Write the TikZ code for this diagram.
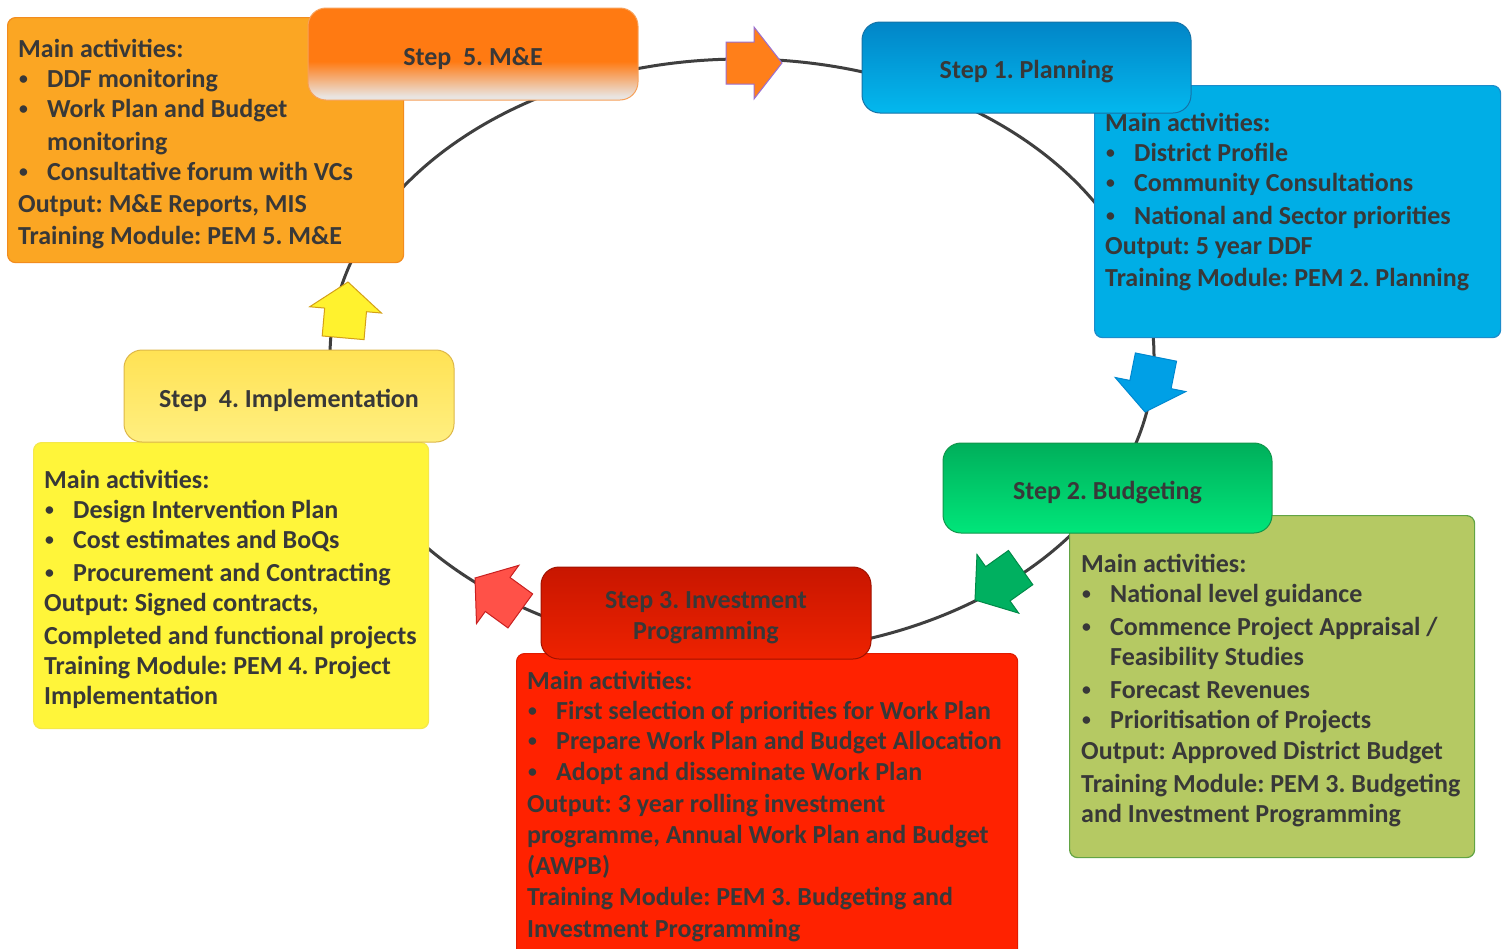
\documentclass[tikz,border=0pt]{standalone}
\usepackage{fontspec}
\newfontfamily\carlito{Carlito}
\definecolor{ringgrey}{HTML}{3F3F3F}
\definecolor{txtgrey}{HTML}{383838}
\definecolor{orfill}{HTML}{FBA623}
\definecolor{orline}{HTML}{F28C1E}
\definecolor{orhead}{HTML}{FF7A12}
\definecolor{orpale}{HTML}{E9E4E1}
\definecolor{orheadline}{HTML}{F7A15A}
\definecolor{bluetop}{HTML}{0285C7}
\definecolor{bluebot}{HTML}{03B8EE}
\definecolor{blueline}{HTML}{1573A8}
\definecolor{bluefill}{HTML}{00AEE6}
\definecolor{blueboxline}{HTML}{1B8CCB}
\definecolor{greentop}{HTML}{00AF5B}
\definecolor{greenbot}{HTML}{00E67A}
\definecolor{greenline}{HTML}{11964A}
\definecolor{olivefill}{HTML}{B5C963}
\definecolor{oliveline}{HTML}{62A444}
\definecolor{redtop}{HTML}{C81600}
\definecolor{redbot}{HTML}{EE2200}
\definecolor{redline}{HTML}{A01200}
\definecolor{redfill}{HTML}{FF2200}
\definecolor{redboxline}{HTML}{E11B00}
\definecolor{yeltop}{HTML}{FFE254}
\definecolor{yelbot}{HTML}{FFEF80}
\definecolor{yelline}{HTML}{DDB747}
\definecolor{yelfill}{HTML}{FFF53A}
\definecolor{yelboxline}{HTML}{F5E84A}
% block arrow colours
\definecolor{arrorange}{HTML}{FF7F1A}
\definecolor{arrorangeline}{HTML}{9B6FD0}
\definecolor{arrblue}{HTML}{00A0E6}
\definecolor{arrblueline}{HTML}{0088D0}
\definecolor{arrgreen}{HTML}{00B060}
\definecolor{arrgreenline}{HTML}{008A48}
\definecolor{arrred}{HTML}{FF5148}
\definecolor{arrredline}{HTML}{C82020}
\definecolor{arryellow}{HTML}{FFF22E}
\definecolor{arryellowline}{HTML}{D4A017}
% orange header: solid at the top, fading to pale grey near the bottom
\pgfdeclareverticalshading{orfade}{100bp}{color(0bp)=(orpale); color(27bp)=(orpale);
  color(46bp)=(orhead); color(100bp)=(orhead)}
\newcommand\bulletmark{\makebox[29pt][l]{\hspace{1pt}\raisebox{3pt}{\scalebox{0.68}{•}}}}
\tikzset{
  cycleline/.style={draw=ringgrey, line width=3pt},
  stephead/.style={draw, rounded corners=18pt, minimum width=330pt,
    minimum height=92pt, line width=1pt, inner sep=0pt},
  headtxt/.style={anchor=base, inner sep=0pt, text=txtgrey,
    font=\carlito\bfseries\fontsize{26}{31}\selectfont},
  infobox/.style={draw, rounded corners=8pt, anchor=north west,
    line width=1.2pt, inner sep=0pt},
  bodytxt/.style={anchor=base west, inner sep=0pt, text=txtgrey,
    font=\carlito\bfseries\fontsize{26}{31}\selectfont},
  pics/blockarrow/.style={code={
    \draw[pic actions, line width=1pt, line join=miter]
      (0,0) -- (-28,36) -- (-28,21) -- (-56,21) -- (-56,-21)
      -- (-28,-21) -- (-28,-36) -- cycle;
  }}
}
\frenchspacing
\begin{document}
\begin{tikzpicture}[x=1pt, y=-1pt]
\clip (0,0) rectangle (1506,948);
\fill[white] (0,0) rectangle (1506,948);

% the cycle
\draw[cycleline] (742,356) ellipse [x radius=412, y radius=297];

% direction arrows on the cycle
\pic[fill=arrorange, draw=arrorangeline] (a51) at (782,63) {blockarrow};
\pic[fill=arrblue, draw=arrblueline, rotate=258.7] (a12) at (1145,412) {blockarrow};
\pic[fill=arrgreen, draw=arrgreenline, rotate=215.4] (a23) at (975,600) {blockarrow};
\pic[fill=arrred, draw=arrredline, rotate=144] (a34) at (475,578) {blockarrow};
\pic[fill=arryellow, draw=arryellowline, rotate=85] (a45) at (348,282) {blockarrow};

% Step 5
\node[infobox, fill=orfill, draw=orline, minimum width=396pt, minimum height=245pt] (i5) at (7,17) {};
\node[stephead, draw=orheadline, shading=orfade] (h5) at (473,54) {};
\node[headtxt] (h5t) at (473,65) {Step\ \ 5. M\&E};
\node[bodytxt] (t5a) at (18,57) {Main activities:};
\node[bodytxt] (t5b) at (18,87) {\bulletmark DDF monitoring};
\node[bodytxt] (t5c) at (18,117) {\bulletmark Work Plan and Budget};
\node[bodytxt] (t5d) at (47,150) {monitoring};
\node[bodytxt] (t5e) at (18,180) {\bulletmark Consultative forum with VCs};
\node[bodytxt] (t5f) at (18,212) {Output: M\&E Reports, MIS};
\node[bodytxt] (t5g) at (18,244) {Training Module: PEM 5. M\&E};

% Step 1
\node[infobox, fill=bluefill, draw=blueboxline, minimum width=406pt, minimum height=252pt] (i1) at (1094,85) {};
\node[stephead, draw=blueline, top color=bluetop, bottom color=bluebot, minimum width=329pt, minimum height=91pt] (h1) at (1026.5,67.5) {};
\node[headtxt] (h1t) at (1026.5,78) {Step 1. Planning};
\node[bodytxt] (t1a) at (1105,131) {Main activities:};
\node[bodytxt] (t1b) at (1105,161) {\bulletmark District Profile};
\node[bodytxt] (t1c) at (1105,191) {\bulletmark Community Consultations};
\node[bodytxt] (t1d) at (1105,224) {\bulletmark National and Sector priorities};
\node[bodytxt] (t1e) at (1105,254) {Output: 5 year DDF};
\node[bodytxt] (t1f) at (1105,286) {Training Module: PEM 2. Planning};

% Step 2
\node[infobox, fill=olivefill, draw=oliveline, minimum width=405pt, minimum height=342pt] (i2) at (1069,515) {};
\node[stephead, draw=greenline, top color=greentop, bottom color=greenbot, minimum width=329pt, minimum height=90pt] (h2) at (1107.5,488) {};
\node[headtxt] (h2t) at (1107.5,499) {Step 2. Budgeting};
\node[bodytxt] (t2a) at (1081,572) {Main activities:};
\node[bodytxt] (t2b) at (1081,602) {\bulletmark National level guidance};
\node[bodytxt] (t2c) at (1081,635) {\bulletmark Commence Project Appraisal /};
\node[bodytxt] (t2d) at (1110,665) {Feasibility Studies};
\node[bodytxt] (t2e) at (1081,698) {\bulletmark Forecast Revenues};
\node[bodytxt] (t2f) at (1081,728) {\bulletmark Prioritisation of Projects};
\node[bodytxt] (t2g) at (1081,759) {Output: Approved District Budget};
\node[bodytxt] (t2h) at (1081,792) {Training Module: PEM 3. Budgeting};
\node[bodytxt] (t2i) at (1081,822) {and Investment Programming};

% Step 3
\node[infobox, fill=redfill, draw=redboxline, minimum width=501pt, minimum height=310pt] (i3) at (516,653) {};
\node[stephead, draw=redline, top color=redtop, bottom color=redbot] (h3) at (706,613) {};
\node[headtxt] (h3t) at (706,608) {Step 3. Investment};
\node[headtxt] (h3u) at (706,639) {Programming};
\node[bodytxt] (t3a) at (527,689) {Main activities:};
\node[bodytxt] (t3b) at (527,719) {\bulletmark First selection of priorities for Work Plan};
\node[bodytxt] (t3c) at (527,749) {\bulletmark Prepare Work Plan and Budget Allocation};
\node[bodytxt] (t3d) at (527,780) {\bulletmark Adopt and disseminate Work Plan};
\node[bodytxt] (t3e) at (527,812) {Output: 3 year rolling investment};
\node[bodytxt] (t3f) at (527,843) {programme, Annual Work Plan and Budget};
\node[bodytxt] (t3g) at (527,874) {(AWPB)};
\node[bodytxt] (t3h) at (527,905) {Training Module: PEM 3. Budgeting and};
\node[bodytxt] (t3i) at (527,937) {Investment Programming};

% Step 4
\node[infobox, fill=yelfill, draw=yelboxline, minimum width=395pt, minimum height=286pt] (i4) at (33,442) {};
\node[stephead, draw=yelline, top color=yeltop, bottom color=yelbot] (h4) at (289,396) {};
\node[headtxt] (h4t) at (289,407) {Step\ \ 4. Implementation};
\node[bodytxt] (t4a) at (44,488) {Main activities:};
\node[bodytxt] (t4b) at (44,518) {\bulletmark Design Intervention Plan};
\node[bodytxt] (t4c) at (44,548) {\bulletmark Cost estimates and BoQs};
\node[bodytxt] (t4d) at (44,581) {\bulletmark Procurement and Contracting};
\node[bodytxt] (t4e) at (44,611) {Output: Signed contracts,};
\node[bodytxt] (t4f) at (44,644) {Completed and functional projects};
\node[bodytxt] (t4g) at (44,674) {Training Module: PEM 4. Project};
\node[bodytxt] (t4h) at (44,704) {Implementation};
\end{tikzpicture}
\end{document}
